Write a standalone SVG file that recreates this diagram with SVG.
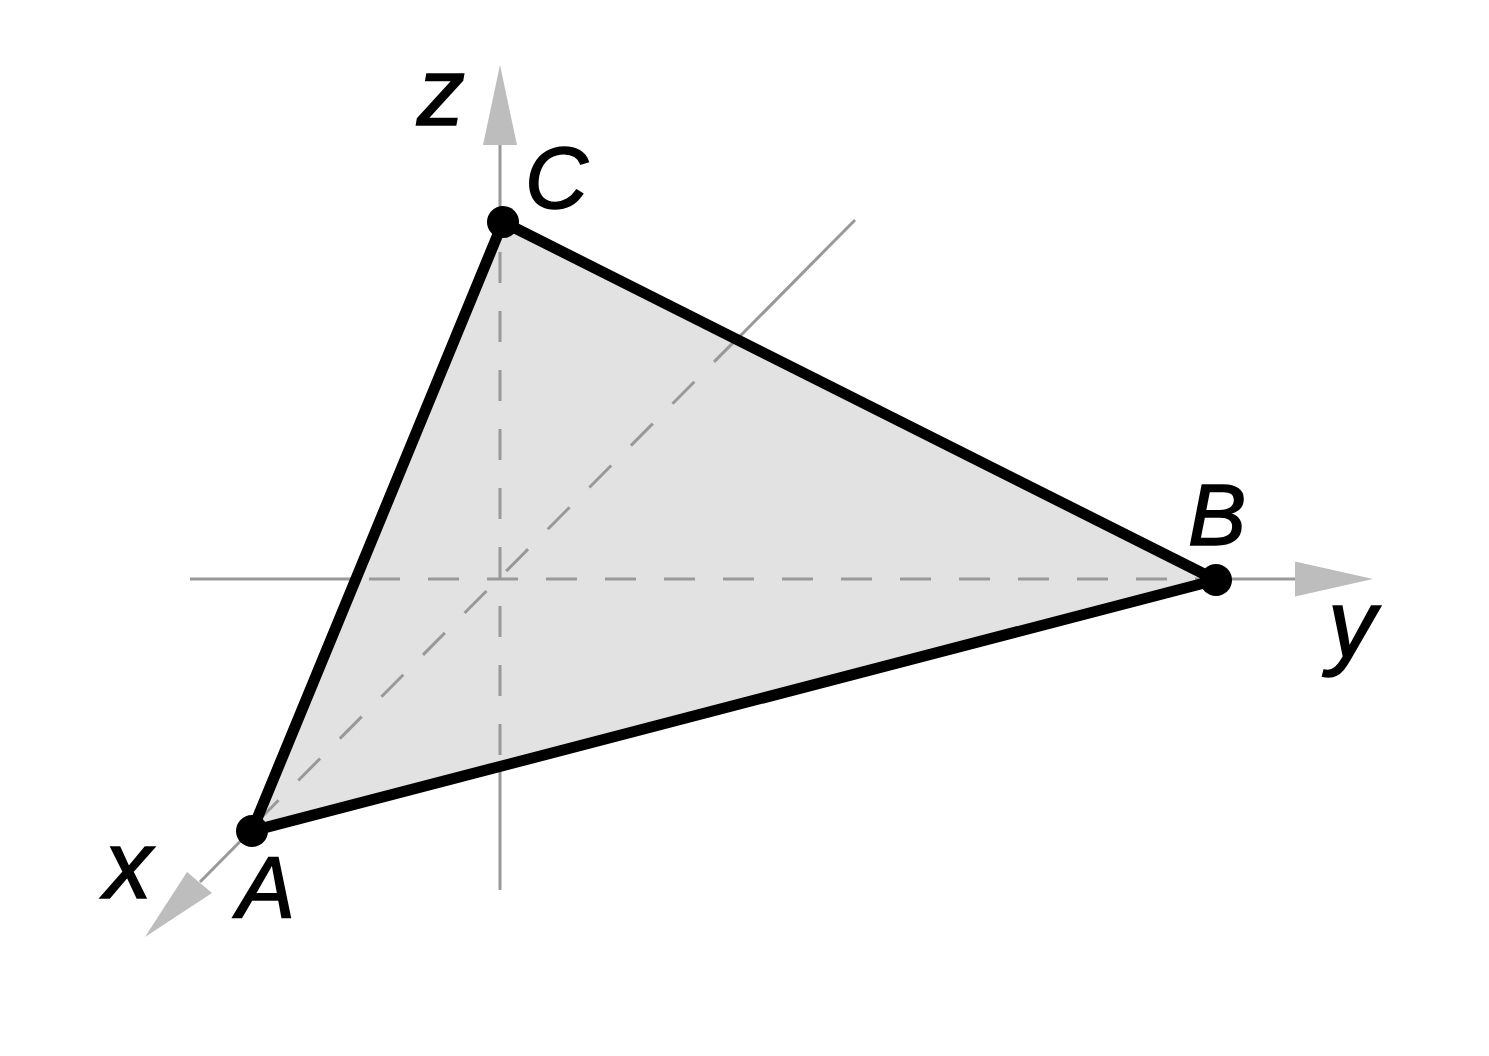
<svg xmlns="http://www.w3.org/2000/svg" width="1489" height="1056" viewBox="0 0 1489 1056">
<style>
.axis{stroke:#999;stroke-width:3;fill:none}
.dash{stroke:#999;stroke-width:3;fill:none;stroke-dasharray:31 28}
.head{fill:#bdbdbd}
.edge{stroke:#000;stroke-width:11;fill:none;stroke-linejoin:round}
.dot{fill:#000}
.lbl{font-family:"Liberation Sans",Arial,sans-serif;font-style:italic;fill:#000;stroke:#000;stroke-width:1.5}
.ax{font-size:96px}
.pt{font-size:87px}
</style>
<defs>
<clipPath id="tri"><polygon points="503,222 1216,580 252,831"/></clipPath>
</defs>
<rect width="1489" height="1056" fill="#fff"/>
<g id="axes">
<line class="axis" x1="190" y1="579" x2="1300" y2="579"/>
<line class="axis" x1="500" y1="890" x2="500" y2="140"/>
<line class="axis" x1="855" y1="220" x2="200" y2="882"/>
<polygon class="head" points="1373,579 1295,561.5 1295,596.5"/>
<polygon class="head" points="500,65 483,145 517,145"/>
<polygon class="head" points="145,937 187,872 212,893"/>
</g>
<g id="triangle">
<polygon points="503,222 1216,580 252,831" fill="#e2e2e2"/>
<g clip-path="url(#tri)">
<line class="dash" x1="190" y1="579" x2="1216" y2="579" stroke-dashoffset="-2"/>
<line class="dash" x1="500" y1="193" x2="500" y2="890"/>
<line class="dash" x1="256.7" y1="822.3" x2="855" y2="220"/>
</g>
<polygon class="edge" points="503,222 1216,580 252,831"/>
</g>
<g id="A"><circle class="dot" cx="252" cy="831" r="16"/><text class="lbl pt" x="237" y="918">A</text></g>
<g id="B"><circle class="dot" cx="1216" cy="580" r="16"/><text class="lbl pt" x="1188" y="545">B</text></g>
<g id="C"><circle class="dot" cx="503" cy="222" r="16"/><text class="lbl pt" x="525" y="208">C</text></g>
<g id="labels">
<text class="lbl ax" x="417" y="125">z</text>
<text class="lbl ax" x="1328" y="657">y</text>
<text class="lbl ax" x="104" y="898">x</text>
</g>
</svg>
